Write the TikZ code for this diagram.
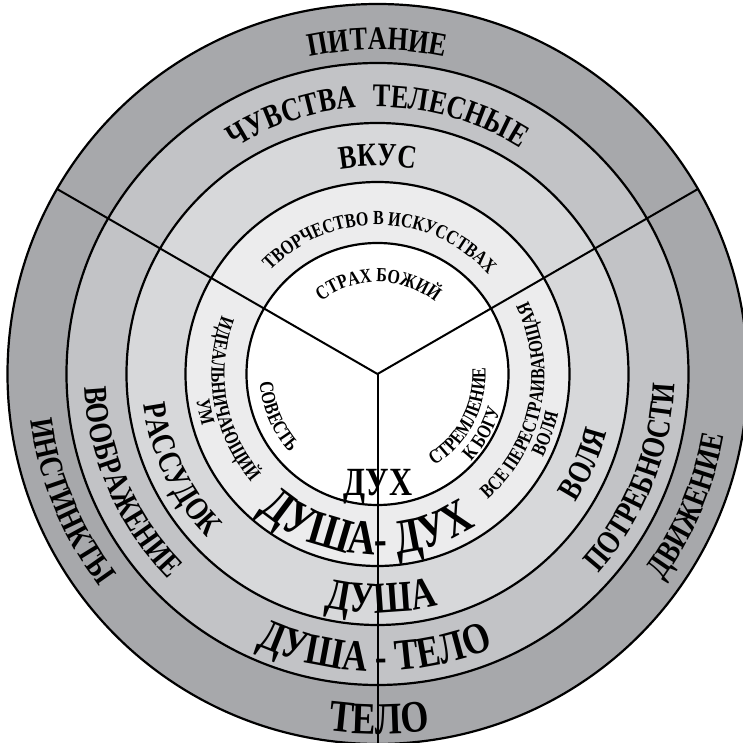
\documentclass[tikz,border=0pt]{standalone}
\usepackage{fontspec}
\newfontfamily\lbl{Liberation Serif}[FakeStretch=0.8]
\usetikzlibrary{decorations.text}
\definecolor{ringA}{HTML}{A7A8AB}
\definecolor{ringB}{HTML}{C2C3C6}
\definecolor{ringC}{HTML}{D7D8DA}
\definecolor{ringD}{HTML}{ECECED}
\tikzset{
  ringline/.style={draw=black,line width=2.2pt},
  spokeline/.style={draw=black,line width=2pt},
}
% text along a clockwise arc (top labels), centre angle #1, baseline radius #2, size #3
\newcommand\cwtext[4]{\path[decorate,decoration={text along path,text align=center,
  text={|\lbl\bfseries\fontsize{#3}{#3}\selectfont|#4}}]
  ({#1+85}:#2pt) arc[start angle={#1+85},end angle={#1-85},radius=#2pt];}
% text along a counter-clockwise arc (side and bottom labels)
\newcommand\ccwtext[4]{\path[decorate,decoration={text along path,text align=center,
  text={|\lbl\bfseries\fontsize{#3}{#3}\selectfont|#4}}]
  ({#1-85}:#2pt) arc[start angle={#1-85},end angle={#1+85},radius=#2pt];}
\begin{document}
\begin{tikzpicture}
\useasboundingbox (-377.5pt,-369pt) rectangle (365.5pt,374pt);
\coordinate (c) at (0,0);
% rings
\fill[ringA] (c) circle[radius=370pt];
\fill[ringB] (c) circle[radius=311pt];
\fill[ringC] (c) circle[radius=251pt];
\fill[ringD] (c) circle[radius=192pt];
\fill[white] (c) circle[radius=131pt];
\foreach \r in {370,311,251,192,131}{\draw[ringline] (c) circle[radius=\r pt];}
% spokes
\coordinate (sL) at (150:370pt);
\coordinate (sR) at (30:370pt);
\coordinate (sB) at (270:380pt);
\draw[spokeline] (c) -- (sL);
\draw[spokeline] (c) -- (sR);
\draw[spokeline] (c) -- (sB);
% top labels
\cwtext{90}{324}{33}{ПИТАНИЕ}
\cwtext{90}{267}{33}{ЧУВСТВА{\hskip16pt}ТЕЛЕСНЫЕ}
\cwtext{90}{208}{33}{ВКУС}
\cwtext{89}{149}{20}{ТВОРЧЕСТВО В ИСКУССТВАХ}
\cwtext{89.5}{92}{20}{СТРАХ БОЖИЙ}
% left labels
\ccwtext{202.5}{350}{33}{ИНСТИНКТЫ}
\ccwtext{203.5}{293}{33}{ВООБРАЖЕНИЕ}
\ccwtext{205.7}{236}{33}{РАССУДОК}
\ccwtext{190}{166}{20}{ИДЕАЛЬНИЧАЮЩИЙ}
\ccwtext{192.5}{183}{20}{УМ}
\ccwtext{203}{118}{20}{СОВЕСТЬ}
% right labels
\ccwtext{-23}{352}{33}{ДВИЖЕНИЕ}
\ccwtext{-22}{297}{33}{ПОТРЕБНОСТИ}
\ccwtext{-23.5}{236}{33}{ВОЛЯ}
\ccwtext{-11.5}{167}{20}{ВСЕ ПЕРЕСТРАИВАЮЩАЯ}
\ccwtext{-19.5}{185}{20}{ВОЛЯ}
\ccwtext{-27.5}{108}{20}{СТРЕМЛЕНИЕ}
\ccwtext{-29.5}{128}{20}{К БОГУ}
% bottom labels
\node[font=\lbl\bfseries\fontsize{40}{40}\selectfont,anchor=base,inner sep=0pt] (dux) at (0.5pt,-121pt) {ДУХ};
\ccwtext{266}{181}{49}{ДУША- ДУХ}
\ccwtext{271}{239}{44}{ДУША}
\ccwtext{269.5}{297}{44}{ДУША - ТЕЛО}
\ccwtext{270.3}{360}{45}{ТЕЛО}
\end{tikzpicture}
\end{document}
